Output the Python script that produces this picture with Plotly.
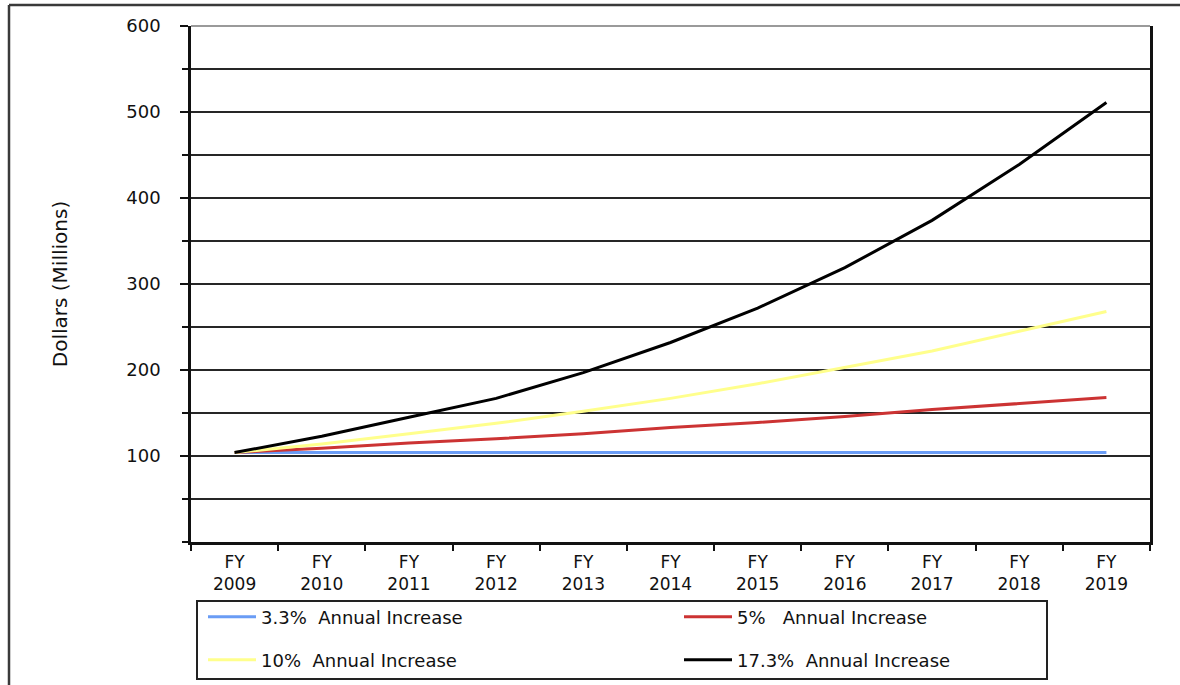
import plotly.graph_objects as go

# Fiscal years on the category axis
categories = ["FY<br>2009", "FY<br>2010", "FY<br>2011", "FY<br>2012", "FY<br>2013",
              "FY<br>2014", "FY<br>2015", "FY<br>2016", "FY<br>2017", "FY<br>2018",
              "FY<br>2019"]

# Projected funding, dollars in millions
growth_3_3 = [104, 104, 104, 104, 104, 104, 104, 104, 104, 104, 104]
growth_5 = [104, 109, 115, 120, 126, 133, 139, 146, 154, 161, 168]
growth_10 = [104, 114, 126, 138, 152, 167, 184, 203, 222, 245, 268]
growth_17_3 = [104, 123, 145, 167, 197, 232, 272, 319, 374, 439, 511]

series_names = ["3.3%  Annual Increase", "5%   Annual Increase",
                "10%  Annual Increase", "17.3%  Annual Increase"]
series_colors = ["#6a9cf5", "#cc3333", "#ffff8c", "#000000"]

y_major = [100, 200, 300, 400, 500, 600]
y_labels = ["100", "200", "300", "400", "500", "600"]
y_minor = [0, 50, 150, 250, 350, 450, 550]

W, H = 1180, 685
L, R, T, B = 191, 30, 26, 143
PW, PH = W - L - R, H - T - B


def px_x(p):
    return (p - L) / PW


def px_y(p):
    return (H - B - p) / PH


FONT = "DejaVu Sans, Verdana, sans-serif"

fig = go.Figure()
series = [growth_3_3, growth_5, growth_10, growth_17_3]
legends = ["legend", "legend", "legend2", "legend2"]
for vals, name, color, lg in zip(series, series_names, series_colors, legends):
    fig.add_trace(go.Scatter(
        x=categories, y=vals, name=name, mode="lines",
        line=dict(color=color, width=3), legend=lg,
    ))

# Outer frame (left and top edges visible)
fig.add_shape(type="line", xref="paper", yref="paper",
              x0=px_x(9), x1=px_x(1200), y0=px_y(5), y1=px_y(5),
              line=dict(color="#3a3a3a", width=2.5))
fig.add_shape(type="line", xref="paper", yref="paper",
              x0=px_x(9), x1=px_x(9), y0=px_y(5), y1=px_y(700),
              line=dict(color="#3a3a3a", width=2.5))
# Light top edge of the plot area
fig.add_shape(type="line", xref="paper", yref="paper",
              x0=0, x1=1, y0=1, y1=1,
              line=dict(color="#9a9a9a", width=2))
# Legend box
fig.add_shape(type="rect", xref="paper", yref="paper",
              x0=px_x(197), x1=px_x(1047), y0=px_y(601), y1=px_y(679),
              line=dict(color="#222222", width=2), fillcolor="rgba(0,0,0,0)")

legend_common = dict(
    orientation="h", xanchor="left", yanchor="middle",
    font=dict(family=FONT, size=18, color="#111111"),
    bgcolor="rgba(0,0,0,0)", borderwidth=0, entrywidth=413, itemwidth=48,
    traceorder="normal",
)

fig.update_layout(
    width=W, height=H,
    margin=dict(l=L, r=R, t=T, b=B, autoexpand=False),
    paper_bgcolor="white", plot_bgcolor="white",
    font=dict(family=FONT, size=17, color="#111111"),
    showlegend=True,
    legend=dict(x=px_x(203), y=px_y(617), **legend_common),
    legend2=dict(x=px_x(203), y=px_y(660), **legend_common),
    xaxis=dict(
        type="category", range=[-0.5, 10.5],
        showline=True, linecolor="#111111", linewidth=2.5, mirror=False,
        ticks="outside", tickson="boundaries", ticklen=6, tickwidth=2,
        tickcolor="#111111", showgrid=False, ticklabelstandoff=3,
        tickfont=dict(family=FONT, size=17, color="#111111"),
    ),
    yaxis=dict(
        range=[0, 600], tickmode="array", tickvals=y_major, ticktext=y_labels,
        showline=True, linecolor="#111111", linewidth=2.5, mirror=True,
        ticks="outside", ticklen=8, tickwidth=2, tickcolor="#111111",
        showgrid=True, gridcolor="#262626", gridwidth=1.5,
        zeroline=False, ticklabelstandoff=16,
        tickfont=dict(family=FONT, size=18, color="#111111"),
        minor=dict(tickmode="array", tickvals=y_minor, ticks="outside",
                   ticklen=6, tickwidth=2, tickcolor="#111111",
                   showgrid=True, gridcolor="#262626", gridwidth=1.5),
        title=dict(text="Dollars (Millions)", standoff=54,
                   font=dict(family=FONT, size=20, color="#111111")),
    ),
)

fig.write_html("out.html")
